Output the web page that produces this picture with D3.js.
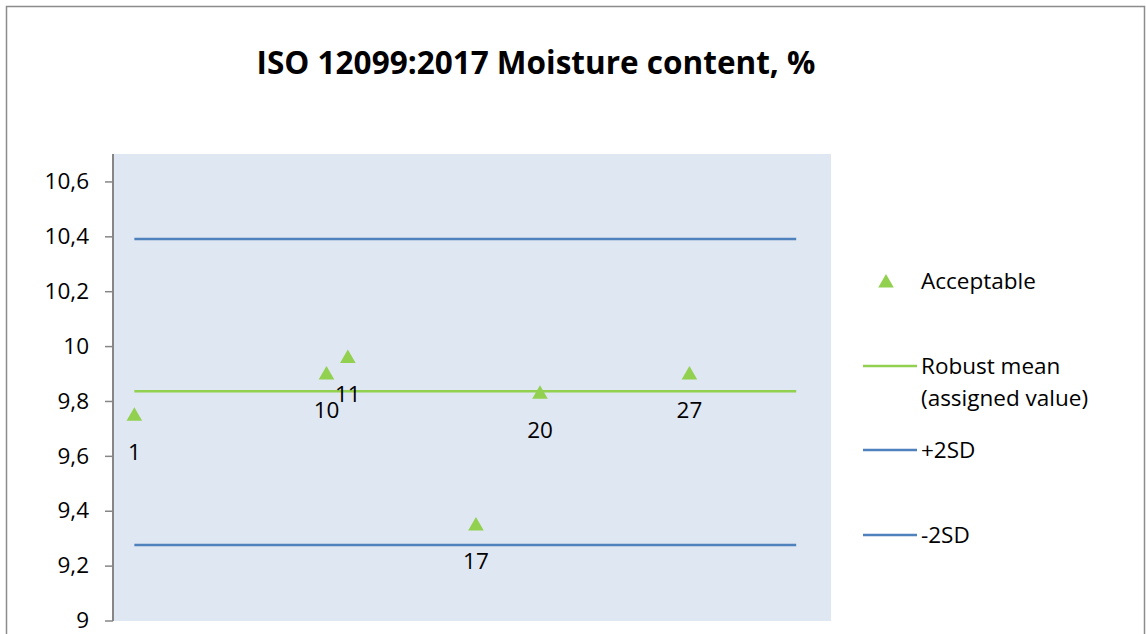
<!DOCTYPE html>
<html>
<head>
<meta charset="utf-8">
<script src="https://cdn.jsdelivr.net/npm/d3@7"></script>
<style>
  body { margin: 0; background: #fff; }
  text { font-family: "Open Sans", "Liberation Sans", sans-serif; fill: #000; }
</style>
</head>
<body>
<svg width="1146" height="634"></svg>
<script>
var labs = [1, 10, 11, 17, 20, 27];
var results = [9.75, 9.90, 9.96, 9.35, 9.83, 9.90];
var lineLabs = [1, 32];
var robustMean = 9.835;
var plus2SD = 10.39;
var minus2SD = 9.275;
var yTicks = [9, 9.2, 9.4, 9.6, 9.8, 10, 10.2, 10.4, 10.6];
var legendNames = ["Acceptable", "Robust mean", "+2SD", "-2SD"];

var svg = d3.select("svg"),
    width = +svg.attr("width"),
    height = +svg.attr("height");

var green = "#92d050", blue = "#4f81bd";
var fs = "22.5px";

// outer chart border
svg.append("rect")
    .attr("x", 6.5).attr("y", 6.5)
    .attr("width", 1138).attr("height", 660)
    .attr("fill", "#fff")
    .attr("stroke", "#8c8c8c")
    .attr("stroke-width", 1.5);

svg.append("text")
    .attr("x", 536)
    .attr("y", 74)
    .attr("text-anchor", "middle")
    .style("font-size", "31.5px")
    .style("font-weight", "bold")
    .text("ISO 12099:2017 Moisture content, %");

var plot = { left: 113, right: 831, top: 154, bottom: 621 };

var x = d3.scaleLinear().domain([0, 33.63]).range([plot.left, plot.right]);
var y = d3.scaleLinear().domain([9, 10.7]).range([620.5, 154]);

svg.append("rect")
    .attr("x", plot.left).attr("y", plot.top)
    .attr("width", plot.right - plot.left)
    .attr("height", plot.bottom - plot.top)
    .attr("fill", "#dfe7f2");

var comma = d3.formatLocale({ decimal: ",", thousands: ".", grouping: [3], currency: ["", ""] });

var yAxis = svg.append("g")
    .attr("transform", "translate(" + plot.left + ",0)")
    .call(d3.axisLeft(y)
        .tickValues(yTicks)
        .tickSize(8)
        .tickPadding(16)
        .tickFormat(comma.format("~g")));
yAxis.select(".domain")
    .attr("d", "M0," + plot.top + "V" + plot.bottom)
    .attr("stroke", "#868686")
    .attr("stroke-width", 2);
yAxis.selectAll(".tick line").attr("stroke", "#868686").attr("stroke-width", 1.5);
yAxis.selectAll(".tick text")
    .style("font-size", fs)
    .style("font-family", "'Open Sans', sans-serif")
    .attr("fill", "#000");

function hline(v, color) {
  svg.append("line")
      .attr("x1", x(lineLabs[0])).attr("x2", x(lineLabs[1]))
      .attr("y1", y(v)).attr("y2", y(v))
      .attr("stroke", color)
      .attr("stroke-width", 2.5);
}
hline(plus2SD, blue);
hline(minus2SD, blue);
hline(robustMean, green);

var tri = d3.symbol().type(d3.symbolTriangle).size(105);

var pts = svg.append("g").selectAll("g")
    .data(labs.map(function(d, i) { return { lab: d, v: results[i] }; }))
    .enter().append("g")
      .attr("transform", function(d) { return "translate(" + x(d.lab) + "," + y(d.v) + ")"; });
pts.append("path").attr("d", tri).attr("fill", green)
    .attr("transform", "translate(0,1.5)");
pts.append("text")
    .attr("y", 37)
    .attr("dy", "0.35em")
    .attr("text-anchor", "middle")
    .style("font-size", fs)
    .text(function(d) { return d.lab; });

// legend
var lg = svg.append("g");
lg.append("path").attr("d", tri).attr("fill", green)
    .attr("transform", "translate(886,283)");
lg.append("text").attr("x", 921).attr("y", 281).attr("dy", "0.35em")
    .style("font-size", fs).text(legendNames[0]);

var lineItems = [
  { name: legendNames[1], color: green, y: 366 },
  { name: legendNames[2], color: blue, y: 450 },
  { name: legendNames[3], color: blue, y: 535 }
];
lineItems.forEach(function(d) {
  lg.append("line")
      .attr("x1", 863).attr("x2", 917)
      .attr("y1", d.y).attr("y2", d.y)
      .attr("stroke", d.color).attr("stroke-width", 2.5);
  lg.append("text").attr("x", 921).attr("y", d.y).attr("dy", "0.35em")
      .style("font-size", fs).text(d.name);
});
lg.append("text").attr("x", 921).attr("y", 398).attr("dy", "0.35em")
    .style("font-size", fs).text("(assigned value)");
</script>
</body>
</html>
